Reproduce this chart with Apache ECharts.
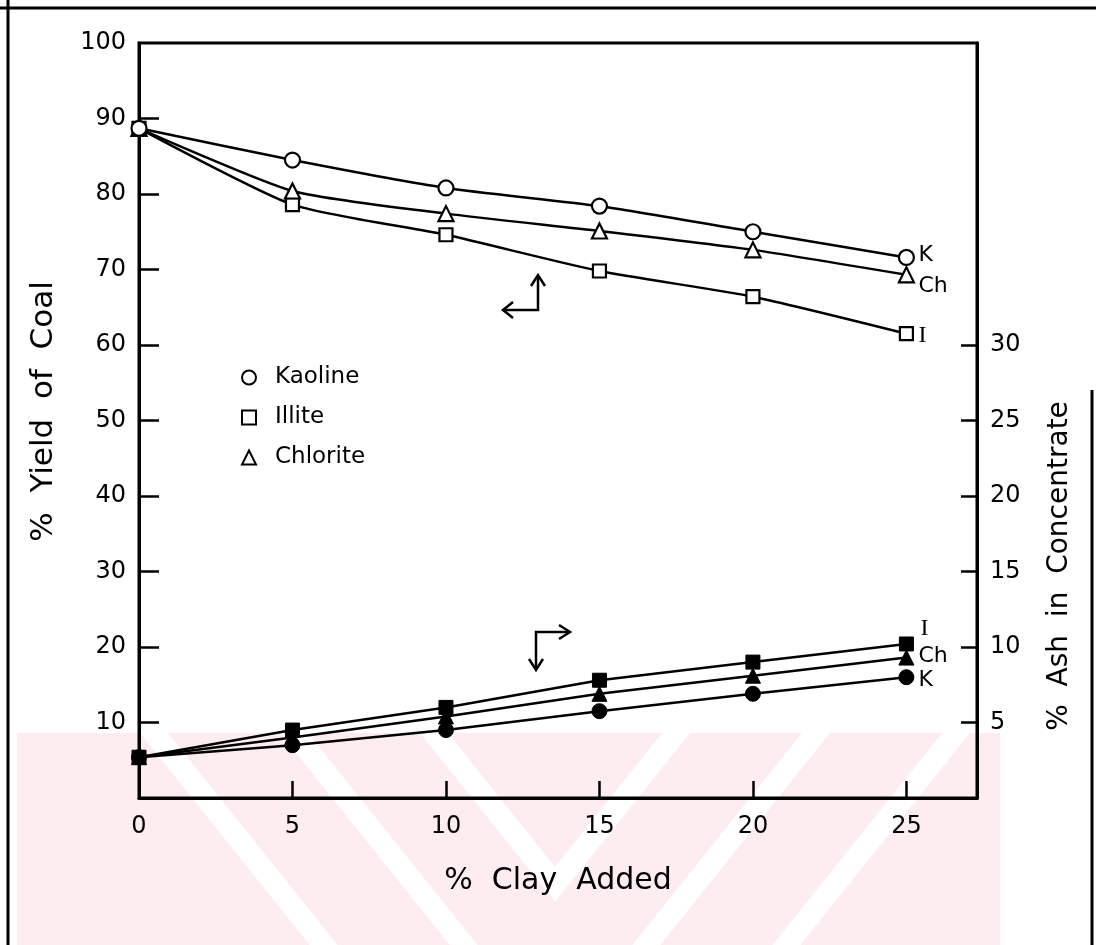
<!DOCTYPE html>
<html>
<head>
<meta charset="utf-8">
<script src="https://cdn.jsdelivr.net/npm/echarts@6/dist/echarts.min.js"></script>
<style>
  html, body { margin: 0; padding: 0; background: #fff; }
  #chart { width: 1096px; height: 945px; }
</style>
</head>
<body>
<div id="chart"></div>
<script>
// % clay added to the coal sample
const clayAdded = [0, 5, 10, 15, 20, 25];

// % yield of coal (left axis)
const yieldKaoline  = [88.7, 84.5, 80.8, 78.4, 75.0, 71.6];
const yieldIllite   = [88.7, 78.6, 74.6, 69.8, 66.4, 61.5];
const yieldChlorite = [88.7, 80.4, 77.4, 75.1, 72.6, 69.3];

// % ash in concentrate (right axis)
const ashKaoline  = [2.7, 3.5, 4.5, 5.75, 6.9, 8.0];
const ashIllite   = [2.7, 4.5, 6.0, 7.8, 9.0, 10.2];
const ashChlorite = [2.7, 4.0, 5.4, 6.9, 8.1, 9.3];

// axis ticks and labels
const xTicks = [5, 10, 15, 20, 25];
const xLabels = [0, 5, 10, 15, 20, 25];
const yieldTicks = [10, 20, 30, 40, 50, 60, 70, 80, 90];
const yieldLabels = [10, 20, 30, 40, 50, 60, 70, 80, 90, 100];
const ashTicks = [5, 10, 15, 20, 25, 30];

const FONT = 'DejaVu Sans';
const INK = '#000';
const TINT = '#fdedf0';

const pairs = (ys) => clayAdded.map((x, i) => [x, ys[i]]);

function endTag(tag, offset) {
  return {
    show: true, formatter: tag, distance: 12, offset: offset,
    color: INK, fontFamily: FONT, fontSize: 22,
    rich: { s: { fontFamily: 'Liberation Serif', fontSize: 24, color: INK } }
  };
}

function yieldSeries(name, ys, symbol, size, tag, offset) {
  return {
    name: name, type: 'line', yAxisIndex: 0,
    data: pairs(ys),
    smooth: 0.2,
    symbol: symbol, symbolSize: size, showAllSymbol: true,
    lineStyle: { color: INK, width: 2.5 },
    itemStyle: { color: '#fff', borderColor: INK, borderWidth: 2.2 },
    endLabel: endTag(tag, offset),
    emphasis: { disabled: true },
    z: 3
  };
}

function ashSeries(name, ys, symbol, size, tag, offset) {
  return {
    name: name, type: 'line', yAxisIndex: 1,
    data: pairs(ys),
    symbol: symbol, symbolSize: size, showAllSymbol: true,
    lineStyle: { color: INK, width: 2.5 },
    itemStyle: { color: INK, borderColor: INK, borderWidth: 1 },
    endLabel: endTag(tag, offset),
    emphasis: { disabled: true },
    z: 3
  };
}

// faint chevron watermark along the bottom of the page
function chevronBands() {
  const cx = 555, top = 733, s = 1.25, w = 28;
  const out = [{
    type: 'rect', z: -20, silent: true,
    shape: { x: 17, y: top, width: 983, height: 945 - top },
    style: { fill: TINT }
  }];
  [140, 280, 420].forEach(function (xl) {
    const xr = 2 * cx - xl;
    const apex = top + s * (cx - xl);
    out.push({
      type: 'polygon', z: -19, silent: true,
      shape: { points: [[xl, top], [cx, apex], [xr, top], [xr - w, top], [cx, apex - s * w], [xl + w, top]] },
      style: { fill: '#fff' }
    });
  });
  return out;
}

const chart = echarts.init(document.getElementById('chart'), null, { renderer: 'canvas' });

const option = {
  animation: false,
  backgroundColor: '#fff',
  grid: {
    left: 139, right: 119, top: 43, bottom: 147,
    outerBoundsMode: 'none',
    show: true, borderColor: INK, borderWidth: 3, backgroundColor: 'transparent'
  },
  legend: {
    orient: 'vertical',
    left: 236, top: 361,
    itemWidth: 14, itemHeight: 14, itemGap: 17,
    selectedMode: false,
    textStyle: { color: INK, fontFamily: FONT, fontSize: 23, padding: [0, 0, 0, 14] },
    itemStyle: { color: '#fff', borderColor: INK, borderWidth: 2 },
    data: [
      { name: 'Kaoline', icon: 'circle' },
      { name: 'Illite', icon: 'rect' },
      { name: 'Chlorite', icon: 'triangle' }
    ]
  },
  xAxis: {
    type: 'value', min: 0, max: 27.3,
    splitLine: { show: false },
    axisLine: { lineStyle: { color: INK, width: 3 } },
    axisTick: { inside: true, length: 17, lineStyle: { color: INK, width: 2.5 }, customValues: xTicks },
    axisLabel: { customValues: xLabels, margin: 17, color: INK, fontFamily: FONT, fontSize: 24 },
    name: '%  Clay  Added', nameLocation: 'middle', nameGap: 68,
    nameTextStyle: { color: INK, fontFamily: FONT, fontSize: 30 }
  },
  yAxis: [
    {
      type: 'value', position: 'left', min: 0, max: 100,
      splitLine: { show: false },
      axisLine: { show: true, lineStyle: { color: INK, width: 3 } },
      axisTick: { show: true, inside: true, length: 20, lineStyle: { color: INK, width: 2.5 }, customValues: yieldTicks },
      axisLabel: { customValues: yieldLabels, margin: 13, color: INK, fontFamily: FONT, fontSize: 24 },
      name: '%  Yield  of  Coal', nameLocation: 'middle', nameGap: 80, nameRotate: 90,
      nameTextStyle: { color: INK, fontFamily: FONT, fontSize: 31, padding: [0, 0, 0, 18] }
    },
    {
      type: 'value', position: 'right', min: 0, max: 50,
      splitLine: { show: false },
      axisLine: { show: true, lineStyle: { color: INK, width: 3 } },
      axisTick: { show: true, inside: true, length: 16, lineStyle: { color: INK, width: 2.5 }, customValues: ashTicks },
      axisLabel: { customValues: ashTicks, margin: 13, color: INK, fontFamily: FONT, fontSize: 24 }
    }
  ],
  series: [
    yieldSeries('Illite', yieldIllite, 'rect', 13, '{s|I}', [0, 2]),
    yieldSeries('Chlorite', yieldChlorite, 'triangle', 15, 'Ch', [0, 11]),
    yieldSeries('Kaoline', yieldKaoline, 'circle', 15, 'K', [0, -2]),
    ashSeries('Kaoline ash', ashKaoline, 'circle', 15, 'K', [0, 3]),
    ashSeries('Chlorite ash', ashChlorite, 'triangle', 15, 'Ch', [0, -1]),
    ashSeries('Illite ash', ashIllite, 'rect', 14, '{s|I}', [2, -15])
  ],
  graphic: chevronBands().concat([
    // title of the right-hand axis
    {
      type: 'text', x: 1060, y: 566, rotation: Math.PI / 2, silent: true,
      style: { text: '%  Ash  in  Concentrate', fill: INK, font: '28px "DejaVu Sans"', align: 'center', verticalAlign: 'middle' }
    },
    // page frame
    { type: 'line', shape: { x1: 8, y1: 0, x2: 8, y2: 945 }, style: { stroke: INK, lineWidth: 3 }, silent: true },
    { type: 'line', shape: { x1: 0, y1: 8, x2: 1096, y2: 8 }, style: { stroke: INK, lineWidth: 3 }, silent: true },
    { type: 'line', shape: { x1: 1092, y1: 390, x2: 1092, y2: 945 }, style: { stroke: INK, lineWidth: 3 }, silent: true },
    // arrow pointing to the yield axis (left)
    { type: 'polyline', shape: { points: [[503, 310], [538, 310], [538, 276]] }, style: { stroke: INK, lineWidth: 2.5, fill: null }, silent: true },
    { type: 'polyline', shape: { points: [[513, 302], [503, 310], [513, 318]] }, style: { stroke: INK, lineWidth: 2.5, fill: null }, silent: true },
    { type: 'polyline', shape: { points: [[531, 286], [538, 275], [545, 286]] }, style: { stroke: INK, lineWidth: 2.5, fill: null }, silent: true },
    // arrow pointing to the ash axis (right)
    { type: 'polyline', shape: { points: [[569, 632], [536, 632], [536, 669]] }, style: { stroke: INK, lineWidth: 2.5, fill: null }, silent: true },
    { type: 'polyline', shape: { points: [[559, 625], [570, 632], [559, 639]] }, style: { stroke: INK, lineWidth: 2.5, fill: null }, silent: true },
    { type: 'polyline', shape: { points: [[529, 659], [536, 670], [543, 659]] }, style: { stroke: INK, lineWidth: 2.5, fill: null }, silent: true }
  ])
};

chart.setOption(option);
</script>
</body>
</html>
